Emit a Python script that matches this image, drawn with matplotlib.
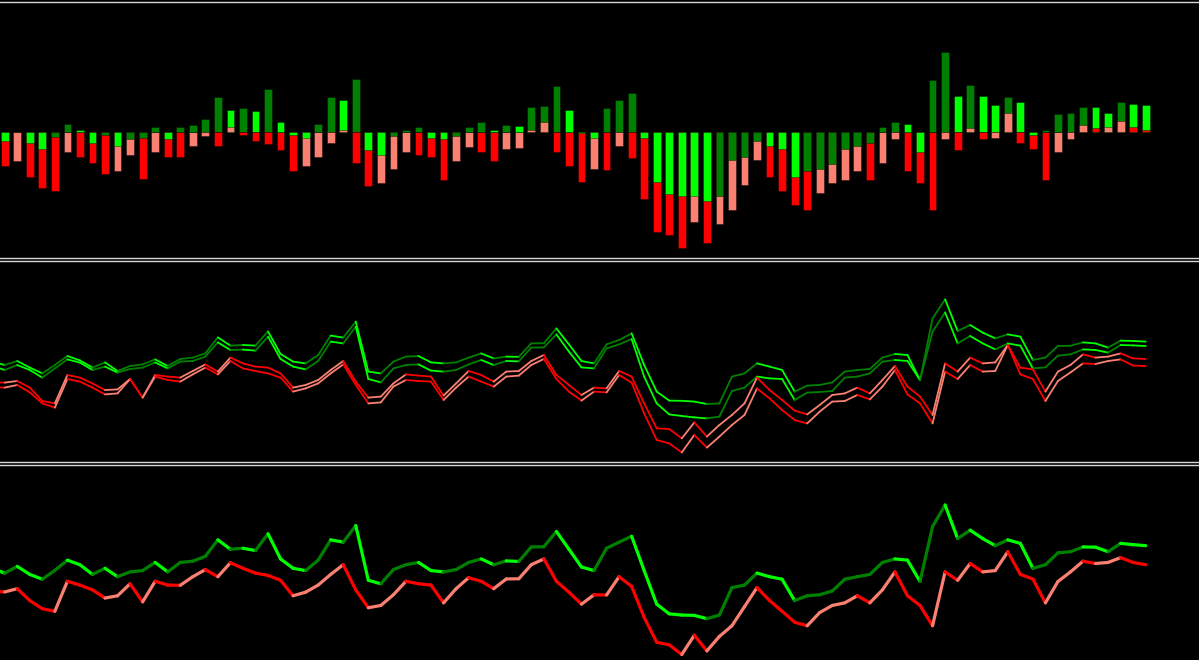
import numpy as np
import matplotlib
matplotlib.use("Agg")
import matplotlib.pyplot as plt
from matplotlib.collections import LineCollection

# histogram values (top panel) - same buffers are drawn as lines in the bottom panel
# first value belongs to the bar just left of the visible window
bull = [-3.0,
        -9.3, -0.5, -11, -17.3, -5.7, 7.7, 1.7, -11, -3, -14, -7.7, -6, 4.7, -7.7, 4.7, 6.3,
        12.7, 34.3, 22, 23.3, 20.3, 42.3, 9.3, -3, -6, 7.7, 34.3, 31.3, 53, -18.7, -23.3, -4.7,
        1.7, 4.7, -6, -7.7, -4.7, 4.7, 9.3, 1.7, 6.7, 6.0, 25, 25.3, 45.3, 22, -1.3, -6,
        23.3, 31.3, 39, -6, -50, -62.7, -64.3, -64.7, -69, -64.3, -28.3, -25, -9.3, -14, -17.3, -45.3,
        -39, -37.7, -32.7, -17.3, -14, -11, 4.7, 9.3, 7.7, -20.3, 51.7, 80, 36, 47, 36, 26.7,
        34.3, 29.7, -3, 1.7, 17.3, 18.7, 25, 24.7, 18.7, 29.7, 28, 26.7]
bear = [-33.0,
        -34, -29.7, -45.3, -56, -59.3, -20, -25, -31.3, -42, -39, -23.3, -47, -20, -25, -25.3, -14,
        -4.7, -14, 4.3, -3, -9.3, -12.3, -18.7, -39, -34.3, -25, -11, 1.7, -31.3, -54.7, -51.7, -37.7,
        -20, -23.3, -25, -48.3, -29.7, -15.3, -20, -29.7, -17, -16.7, 1.7, 9.3, -20, -34.3, -50, -37.7,
        -38, -14, -26.7, -67.3, -100, -103.3, -116, -90.7, -111.3, -92.3, -78.3, -53.3, -28.3, -45.3, -59.3, -73.7,
        -78.3, -61, -51.7, -48.3, -39, -48.3, -31.3, -7.7, -39, -51.7, -78.3, -7.7, -18.7, 3.3, -7.7, -6,
        18.7, -11, -17, -48.3, -20.3, -7.7, 6.3, 3.3, 4.7, 11, 4.7, 1.7]

# middle panel: two bull lines and two bear lines
mid_bull_a = [51.7,
              50.0, 52.0, 48.7, 45.8, 50.0, 54.5, 52.3, 48.7, 51.3, 47.0, 49.5, 50.3, 52.8, 49.5, 53.0, 53.7,
              55.8, 63.8, 59.7, 60.0, 59.7, 66.8, 55.5, 51.7, 50.8, 55.0, 64.7, 63.7, 71.7, 46.7, 45.8, 51.7,
              54.2, 54.5, 51.3, 50.8, 51.3, 53.7, 55.8, 53.3, 54.2, 54.1, 60.8, 60.9, 68.3, 60.3, 52.0, 50.8,
              60.3, 62.5, 65.8, 50.0, 36.7, 32.2, 32.1, 31.7, 30.5, 30.8, 44.2, 45.8, 50.8, 49.2, 47.5, 36.7,
              39.7, 40.0, 41.3, 46.7, 47.5, 48.0, 53.7, 55.5, 55.0, 42.5, 73.3, 82.8, 67.0, 70.0, 66.2, 63.3,
              65.3, 64.2, 52.5, 53.7, 59.5, 59.6, 61.3, 60.8, 58.7, 62.2, 62.0, 61.7]
mid_bull_b = [49.5,
              47.5, 50.0, 47.5, 43.7, 48.3, 52.8, 51.2, 47.5, 49.2, 46.2, 48.0, 48.7, 51.3, 48.3, 51.7, 52.0,
              54.2, 61.3, 57.5, 57.7, 57.2, 64.2, 53.0, 49.2, 47.8, 52.0, 61.7, 60.8, 69.2, 43.0, 41.3, 48.3,
              50.0, 50.3, 47.2, 46.7, 47.5, 50.3, 52.5, 50.0, 52.0, 51.8, 58.7, 58.8, 65.3, 56.7, 48.8, 48.3,
              58.3, 60.3, 63.0, 44.2, 30.8, 25.3, 24.5, 23.8, 23.3, 24.2, 37.0, 38.7, 44.2, 43.3, 43.0, 32.5,
              36.2, 36.5, 37.0, 43.7, 44.2, 45.8, 51.7, 52.5, 52.0, 42.5, 66.7, 76.3, 60.8, 64.5, 60.8, 57.8,
              60.8, 59.7, 48.3, 48.8, 54.7, 55.3, 57.8, 57.5, 56.2, 60.0, 59.8, 59.5]
mid_bear_a = [41.5,
              41.2, 42.0, 38.7, 32.0, 30.8, 45.0, 43.7, 40.8, 37.5, 37.8, 43.0, 33.7, 45.0, 44.2, 43.7, 47.0,
              50.3, 46.7, 53.7, 50.8, 49.2, 48.7, 45.8, 38.7, 40.0, 42.5, 47.5, 52.0, 41.7, 33.7, 34.2, 40.8,
              45.3, 44.7, 44.2, 34.7, 40.8, 47.0, 45.0, 41.7, 46.7, 47.0, 52.0, 55.0, 45.0, 40.0, 35.0, 38.7,
              38.3, 47.0, 44.2, 30.8, 18.3, 18.0, 13.3, 21.3, 14.2, 20.0, 25.0, 30.8, 43.7, 37.5, 32.5, 27.2,
              25.3, 30.0, 35.0, 35.8, 38.7, 35.8, 42.5, 49.5, 39.2, 34.2, 25.0, 50.8, 46.7, 53.7, 50.8, 51.3,
              60.0, 48.7, 47.8, 36.7, 46.7, 50.0, 55.3, 53.7, 54.2, 55.8, 53.3, 53.0]
mid_bear_b = [39.0,
              38.7, 40.0, 36.3, 30.8, 28.7, 43.0, 41.7, 38.7, 35.3, 35.8, 43.0, 33.7, 44.2, 42.5, 41.7, 45.3,
              48.7, 45.3, 52.0, 48.3, 47.0, 45.8, 43.7, 36.7, 38.3, 40.8, 45.8, 50.3, 40.0, 30.8, 31.3, 39.2,
              42.5, 42.0, 41.7, 32.5, 38.7, 44.2, 41.7, 39.2, 44.2, 44.7, 50.0, 53.0, 43.0, 36.7, 32.2, 36.7,
              36.3, 45.0, 41.2, 25.8, 12.5, 10.8, 6.3, 15.0, 8.7, 14.2, 20.0, 25.0, 38.3, 33.3, 27.5, 22.5,
              20.8, 26.7, 31.7, 32.0, 35.0, 32.8, 39.2, 47.5, 35.3, 30.8, 20.8, 46.7, 43.0, 50.0, 46.7, 47.0,
              60.0, 45.3, 43.0, 32.0, 42.0, 46.3, 50.8, 50.5, 52.0, 52.8, 49.7, 49.5]

LIME, DKGREEN, RED, SALMON = '#00ff00', '#008000', '#ff0000', '#fa8072'

bull = np.array(bull)
bear = np.array(bear)
x = np.arange(len(bull))

# colour by direction of the buffer
bull_col = np.where(np.diff(bull, prepend=bull[0]) > 0, DKGREEN, LIME)
bear_col = np.where(np.diff(bear, prepend=bear[0]) > 0, SALMON, RED)

H = 660.0
fig = plt.figure(figsize=(11.99, 6.6), dpi=100, facecolor='black')


def panel(top, bottom, ylim, show_bottom=True):
    ax = fig.add_axes([0, 1 - bottom / H, 1, (bottom - top) / H])
    ax.set_facecolor('black')
    ax.set_xlim(0.625, 96.25)
    ax.set_ylim(*ylim)
    ax.set_xticks([])
    ax.set_yticks([])
    for side in ['left', 'right']:
        ax.spines[side].set_visible(False)
    for side in ['top', 'bottom']:
        ax.spines[side].set_color('#d8d8d8')
        ax.spines[side].set_linewidth(1.0)
    if not show_bottom:
        ax.spines['bottom'].set_visible(False)
    return ax


def colored_line(ax, y, colors, lw):
    pts = np.column_stack([x, np.asarray(y, dtype=float)])
    segs = np.stack([pts[:-1], pts[1:]], axis=1)
    lc = LineCollection(segs, colors=colors[1:], linewidths=lw,
                        capstyle='round', joinstyle='round')
    ax.add_collection(lc)


# --- top: histogram
ax1 = panel(1.8, 258, (-126.3, 129.9))
bw = 0.62
edge = dict(edgecolor=(0, 0, 0, 0.45), linewidth=0.6)
g_back = np.abs(bull) >= np.abs(bear)
ax1.bar(x[g_back], bull[g_back], bw, color=bull_col[g_back], zorder=2, **edge)
ax1.bar(x[g_back], bear[g_back], bw, color=bear_col[g_back], zorder=3, **edge)
ax1.bar(x[~g_back], bear[~g_back], bw, color=bear_col[~g_back], zorder=2, **edge)
ax1.bar(x[~g_back], bull[~g_back], bw, color=bull_col[~g_back], zorder=3, **edge)

# --- middle: paired lines
ax2 = panel(260.5, 462, (1.5, 102.25))
for series, cols in [(mid_bull_a, bull_col), (mid_bull_b, bull_col),
                     (mid_bear_a, bear_col), (mid_bear_b, bear_col)]:
    colored_line(ax2, series, cols, 1.3)

# --- bottom: single lines
ax3 = panel(464.7, 660, (-123.2, 132.8), show_bottom=False)
colored_line(ax3, bull, bull_col, 2.3)
colored_line(ax3, bear, bear_col, 2.3)

fig.savefig('out.png', dpi=100, facecolor='black')
